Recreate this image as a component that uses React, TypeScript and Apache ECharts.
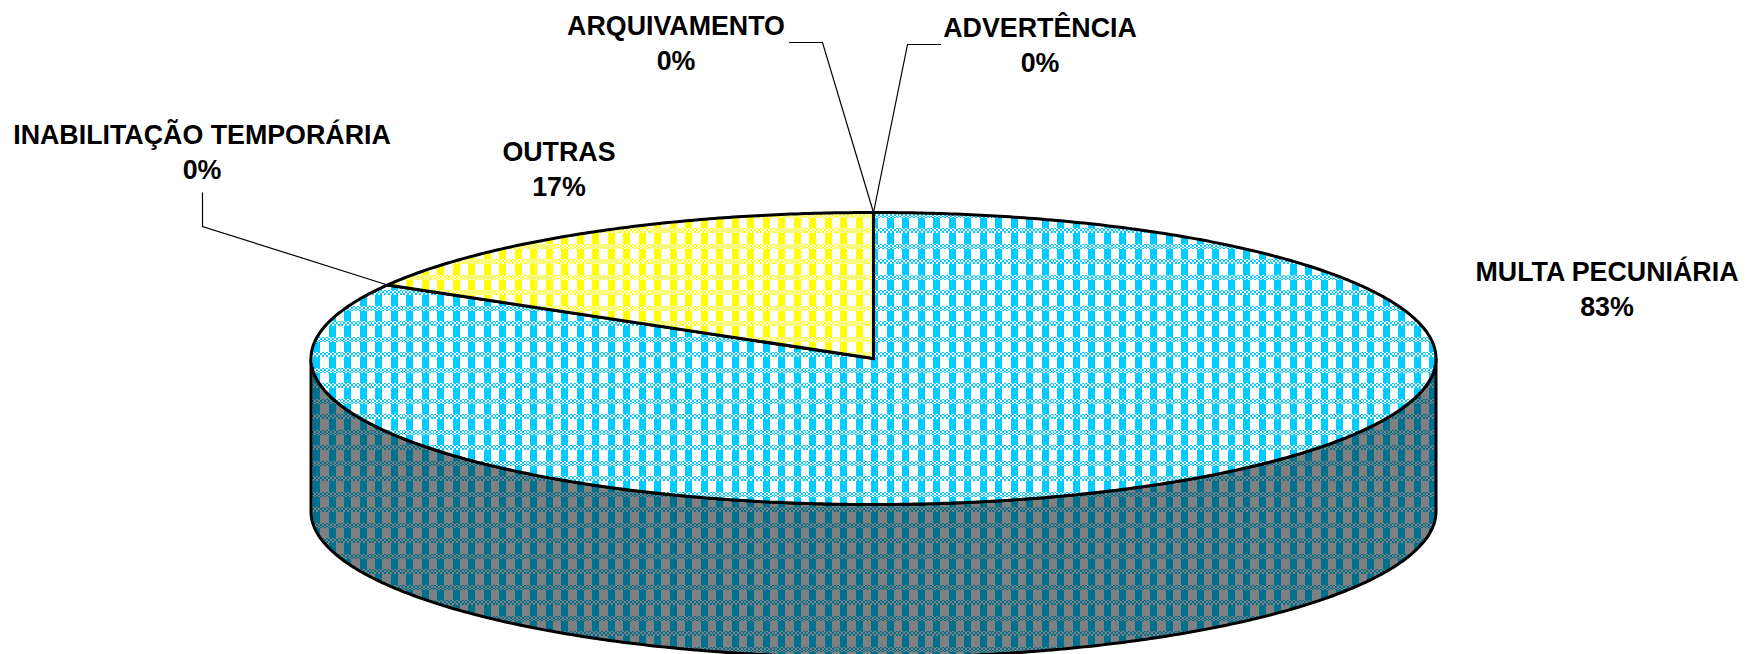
import React, { useEffect, useRef } from "react";
import * as echarts from "echarts";

const categories = ["MULTA PECUNIÁRIA", "INABILITAÇÃO TEMPORÁRIA", "OUTRAS", "ARQUIVAMENTO", "ADVERTÊNCIA"];
const values = [83.4, 0, 16.6, 0, 0];

// Layout, kept apart from the data
const CX = 873.5, CY = 358.5, RX = 562.5, RY = 146, DEPTH = 153;
const labelCenters: [number, number][] = [[1607, 272], [202, 135], [559, 152], [676, 26], [1040, 28]];
const LINE_GAP = 35;
const leaderElbows: ([number, number][] | null)[] = [
  null,
  [[202.5, 192.5], [202.5, 226.5]],
  null,
  [[789, 42.5], [822.5, 42.5]],
  [[941, 44.5], [907.5, 44.5]],
];
const topColors = ["#00CCFF", "#FFFF00"];
const topBack = "#FFFFFF";
const wallColor = "#00708F";
const wallBack = "#808080";

function makeTile(color: string, back: string) {
  const c = document.createElement("canvas");
  c.width = 31; c.height = 31;
  const ctx = c.getContext("2d")!;
  for (let py = 0; py < 31; py++) {
    for (let px = 0; px < 31; px++) {
      const u = px % 15.5, v = py % 15.5;
      const inBand = v >= 11 || v < 0.5;
      let col;
      if (inBand) col = (Math.floor(px / 2) + Math.floor(py / 2)) % 2 ? color : back;
      else col = u >= 3 && u < 10 ? color : back;
      ctx.fillStyle = col;
      ctx.fillRect(px, py, 1, 1);
    }
  }
  return c;
}

const total = values.reduce((a, b) => a + b, 0);
const spans = (() => {
  let acc = 0;
  return values.map((v) => {
    const s = (acc / total) * Math.PI * 2;
    acc += v;
    return [s, (acc / total) * Math.PI * 2];
  });
})();
const rim = (t: number, dy = 0): [number, number] => [CX + RX * Math.sin(t), CY - RY * Math.cos(t) + dy];
const arc = (a: number, b: number, dy = 0) => {
  const n = Math.max(1, Math.ceil(Math.abs(b - a) / (Math.PI / 360)));
  const pts: [number, number][] = [];
  for (let i = 0; i <= n; i++) pts.push(rim(a + ((b - a) * i) / n, dy));
  return pts;
};

export default function App() {
  const ref = useRef<HTMLDivElement>(null);
  useEffect(() => {
    document.body.style.margin = "0";
    const chart = echarts.init(ref.current!, null, { renderer: "svg" });
    const lineStyle = { stroke: "#000", lineWidth: 3, lineJoin: "miter" };
    const topPattern = topColors.map((c) => ({ image: makeTile(c, topBack), repeat: "repeat" }));
    const wallPattern = { image: makeTile(wallColor, wallBack), repeat: "repeat" };
    const rows = categories.map((n, i) => [n, values[i]]);

    chart.setOption({
      animation: false,
      backgroundColor: "#fff",
      dataset: { source: rows },
      series: [
        {
          type: "custom",
          name: "walls",
          coordinateSystem: "none",
          silent: true,
          renderItem: (p: any) => {
            const [s, e] = spans[p.dataIndex];
            const a = Math.max(s, Math.PI / 2), b = Math.min(e, (Math.PI * 3) / 2);
            if (b <= a) return { type: "group", children: [] };
            const pts = [...arc(a, b), ...arc(b, a, DEPTH)];
            return { type: "polygon", shape: { points: pts }, style: { fill: wallPattern, ...lineStyle } };
          },
        },
        {
          type: "custom",
          name: "tops",
          coordinateSystem: "none",
          silent: true,
          renderItem: (p: any) => {
            const [s, e] = spans[p.dataIndex];
            if (e <= s) return { type: "group", children: [] };
            const pts = [[CX, CY], ...arc(s, e)];
            const fill = topPattern[p.dataIndex === 0 ? 0 : 1];
            return { type: "polygon", shape: { points: pts }, style: { fill, ...lineStyle } };
          },
        },
        {
          type: "custom",
          name: "labels",
          coordinateSystem: "none",
          silent: true,
          renderItem: (p: any) => {
            const i = p.dataIndex;
            const [lx, ly] = labelCenters[i];
            const textStyle = { fill: "#000", font: "bold 26.8px 'Liberation Sans', Arial, sans-serif", align: "center", verticalAlign: "middle" };
            const children: any[] = [
              { type: "text", x: lx, y: ly, style: { ...textStyle, text: categories[i] } },
              { type: "text", x: lx, y: ly + LINE_GAP, style: { ...textStyle, text: Math.round((values[i] / total) * 100) + "%" } },
            ];
            const elbows = leaderElbows[i];
            if (elbows) {
              children.push({
                type: "polyline",
                shape: { points: [...elbows, rim(spans[i][0])] },
                style: { stroke: "#000", lineWidth: 1.2, fill: "none" },
              });
            }
            return { type: "group", children };
          },
        },
      ],
    });
    return () => chart.dispose();
  }, []);
  return <div ref={ref} style={{ width: 1747, height: 654 }} />;
}
